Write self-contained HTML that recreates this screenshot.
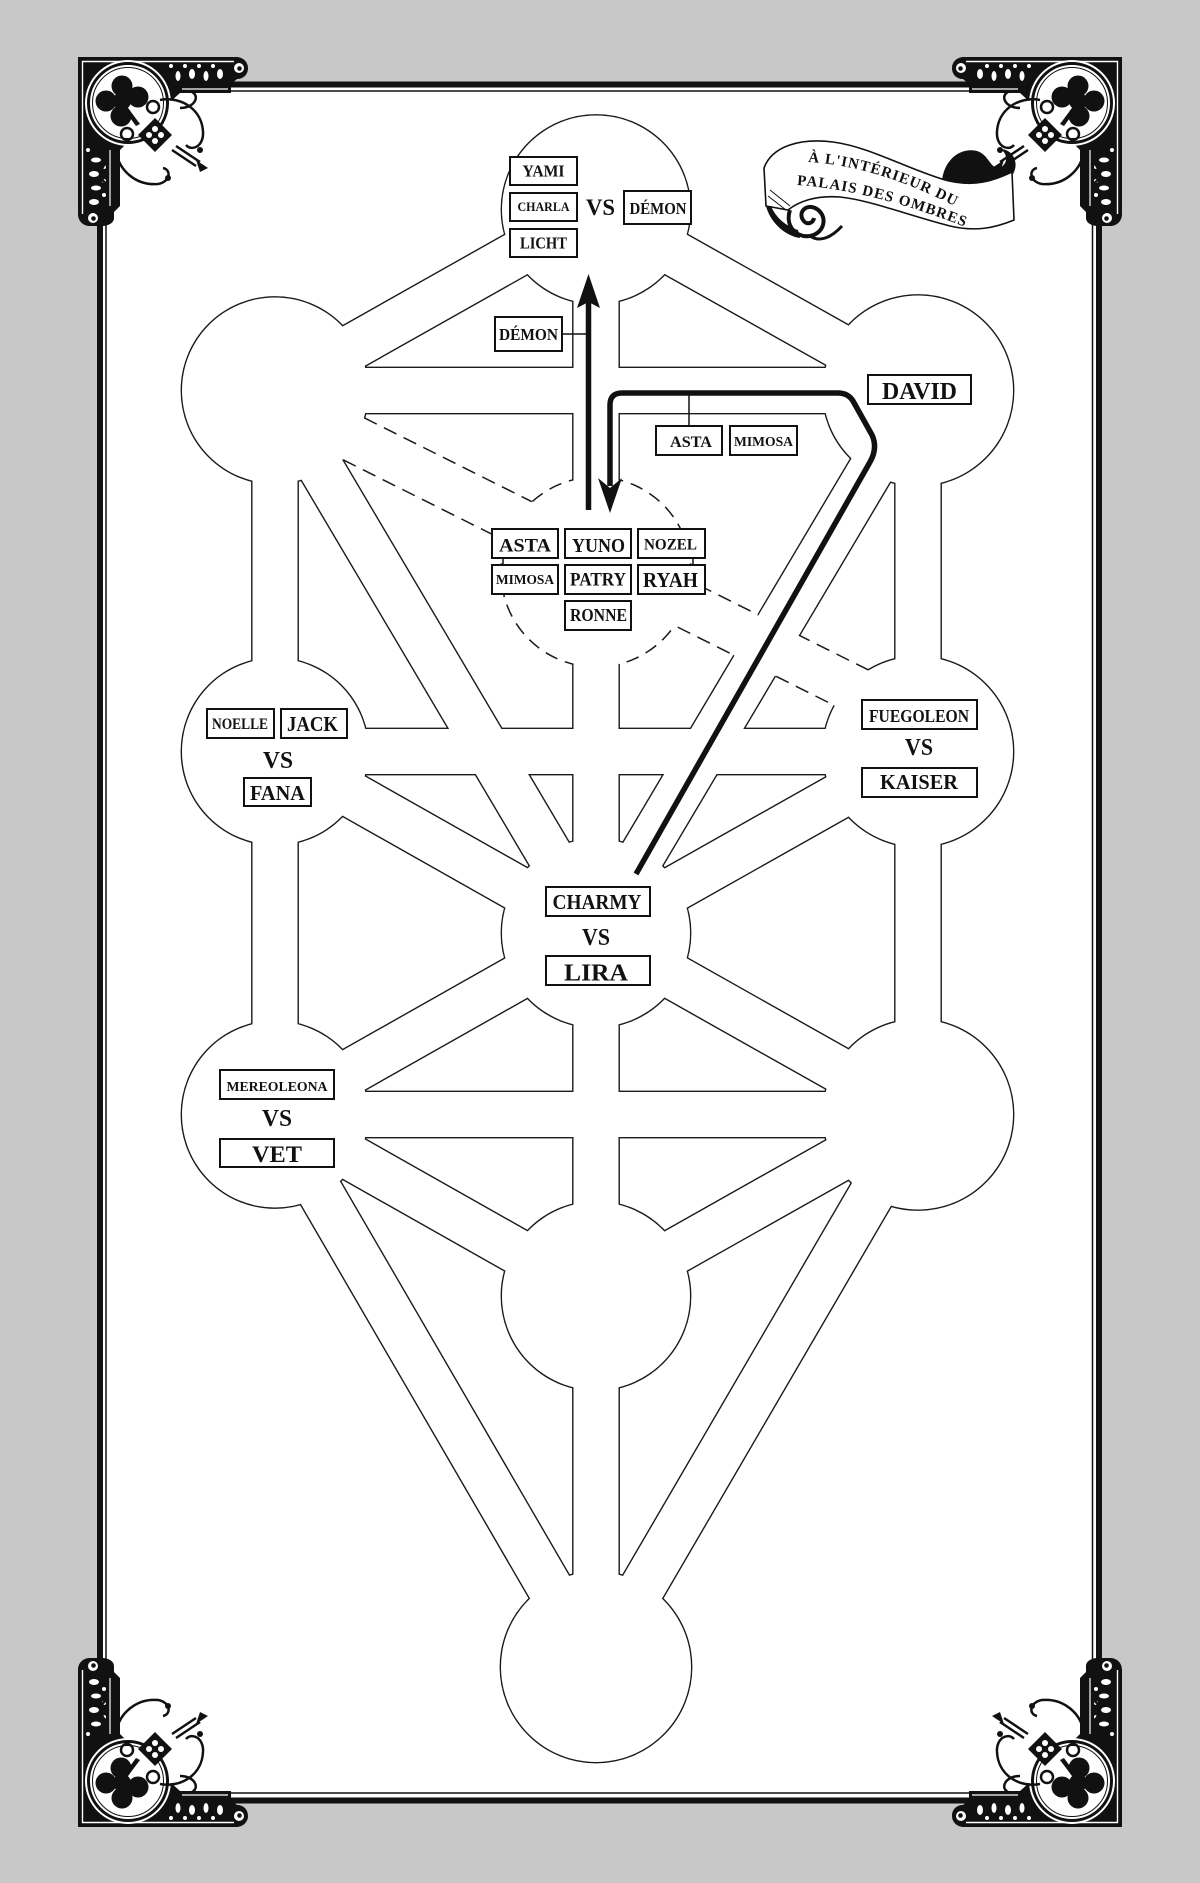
<!DOCTYPE html>
<html><head><meta charset="utf-8"><style>
html,body{margin:0;padding:0;background:#c8c8c8;}
svg{display:block;}
.t{font-family:"Liberation Serif","DejaVu Serif",serif;font-weight:bold;fill:#111;}
</style></head><body>
<svg xmlns="http://www.w3.org/2000/svg" xmlns:xlink="http://www.w3.org/1999/xlink" width="1200" height="1883" viewBox="0 0 1200 1883">
<defs>
<path id="chan" d="M596,209.5L275,390.5 M596,209.5L918,390.5 M596,209.5L596,933 M275,390.5L918,390.5 M275,390.5L275,751.5 M918,390.5L918,751.5 M275,390.5L596,933 M918,390.5L596,933 M275,751.5L918,751.5 M275,751.5L596,933 M918,751.5L596,933 M275,751.5L275,1114.5 M918,751.5L918,1114.5 M596,933L275,1114.5 M596,933L918,1114.5 M596,933L596,1296 M275,1114.5L918,1114.5 M275,1114.5L596,1296 M918,1114.5L596,1296 M275,1114.5L596,1667 M918,1114.5L596,1667 M596,1296L596,1667"/>
<g id="circ">
<circle cx="596" cy="209.5" r="94"/>
<circle cx="275" cy="390.5" r="93"/>
<circle cx="918" cy="390.5" r="95"/>
<circle cx="275" cy="751.5" r="93"/>
<circle cx="918" cy="751.5" r="95"/>
<circle cx="596" cy="933" r="94"/>
<circle cx="275" cy="1114.5" r="93"/>
<circle cx="918" cy="1114.5" r="95"/>
<circle cx="596" cy="1296" r="94"/>
<circle cx="596" cy="1667" r="95"/>
</g>
<mask id="mDaat" maskUnits="userSpaceOnUse" x="0" y="0" width="1200" height="1883">
<rect width="1200" height="1883" fill="#fff"/>
<line x1="596" y1="209.5" x2="596" y2="933" stroke="#000" stroke-width="45"/>
<line x1="275" y1="399.5" x2="918" y2="721" stroke="#000" stroke-width="47"/>
</mask>
<mask id="mDash" maskUnits="userSpaceOnUse" x="0" y="0" width="1200" height="1883">
<rect width="1200" height="1883" fill="#fff"/>
<use xlink:href="#chan" href="#chan" fill="none" stroke="#000" stroke-width="45"/>
<use xlink:href="#circ" href="#circ" fill="#000"/>
<circle cx="596" cy="572" r="95" fill="#000"/>
</mask>
<path id="rp1" d="M808,162 Q880,166 964,211" fill="none"/>
<path id="rp2" d="M797,185 Q872,190 968,228" fill="none"/>

<g id="orn">
<path fill="#111" d="M78,57 H236 C243,57 248,62 248,68 C248,75 243,79 237,79 L231,84 V93 H180 L150,120 L120,150 V206 L114,212 V218 C114,223 108,226 102,226 L90,226 C83,226 78,221 78,214 Z"/>
<path fill="none" stroke="#fff" stroke-width="1.4" d="M82.5,214 V61.5 H234"/>
<path fill="none" stroke="#fff" stroke-width="1.2" d="M110,206 V150 M182,89 H228"/>
<circle cx="239" cy="68" r="5" fill="#fff"/><circle cx="239.5" cy="68.5" r="2.3" fill="#111"/>
<circle cx="93" cy="218" r="5" fill="#fff"/><circle cx="93.5" cy="218.5" r="2.3" fill="#111"/>
<g fill="#fff">
<ellipse cx="178" cy="76" rx="2.5" ry="5"/><ellipse cx="192" cy="74" rx="3" ry="5"/><ellipse cx="206" cy="76" rx="2.5" ry="5"/><ellipse cx="220" cy="74" rx="3" ry="5"/>
<circle cx="185" cy="66" r="2"/><circle cx="199" cy="66" r="2"/><circle cx="213" cy="66" r="2"/><circle cx="171" cy="66" r="2"/>
<ellipse cx="96" cy="160" rx="5" ry="2.5"/><ellipse cx="94" cy="174" rx="5" ry="3"/><ellipse cx="96" cy="188" rx="5" ry="2.5"/><ellipse cx="94" cy="202" rx="5" ry="3"/>
<circle cx="104" cy="167" r="2"/><circle cx="104" cy="181" r="2"/><circle cx="104" cy="195" r="2"/><circle cx="88" cy="150" r="2"/>
</g>
<circle cx="128" cy="103" r="43" fill="#fff"/>
<circle cx="128" cy="103" r="39.5" fill="none" stroke="#111" stroke-width="3"/>
<circle cx="128" cy="103" r="35.5" fill="none" stroke="#111" stroke-width="1"/>
<g fill="#111">
<circle cx="122" cy="86" r="10.5"/><circle cx="106" cy="101" r="10.5"/><circle cx="138" cy="97" r="10.5"/><circle cx="121" cy="116" r="10.5"/><circle cx="122" cy="101" r="9"/>
<path d="M128,108 L140,124 L136,126 L125,111 Z"/>
<path d="M155,118 L172,135 L155,152 L138,135 Z"/>
</g>
<g fill="#fff"><circle cx="155" cy="129" r="3"/><circle cx="161" cy="135" r="3"/><circle cx="155" cy="141" r="3"/><circle cx="149" cy="135" r="3"/></g>
<g fill="none" stroke="#111" stroke-width="2.5">
<circle cx="153" cy="107" r="6"/><circle cx="127" cy="134" r="6"/>
<path d="M160,100 C182,96 202,110 203,132 C204,146 192,152 186,145"/>
<path d="M116,150 C118,170 136,186 158,184 C170,182 172,170 163,168"/>
<path d="M172,150 L196,166 M176,146 L200,162"/>
<path d="M180,108 C195,108 200,96 192,92"/>
<path d="M108,160 C98,170 100,182 108,184"/>
</g>
<g fill="#111"><circle cx="200" cy="150" r="3"/><circle cx="168" cy="178" r="3"/><path d="M196,160 L208,168 L200,172 Z"/></g>
</g>
</defs>

<!-- background -->
<rect width="1200" height="1883" fill="#c8c8c8"/>
<!-- page -->
<rect x="100" y="84.5" width="999" height="1716" fill="#fff" stroke="#111" stroke-width="6"/>
<rect x="106" y="91" width="986.5" height="1702" fill="none" stroke="#111" stroke-width="1.5"/>

<!-- tree black layer -->
<use xlink:href="#chan" href="#chan" fill="none" stroke="#1a1a1a" stroke-width="47.8"/>
<use xlink:href="#circ" href="#circ" fill="#1a1a1a" stroke="#1a1a1a" stroke-width="2.8"/>
<!-- tree white layer -->
<use xlink:href="#chan" href="#chan" fill="none" stroke="#fff" stroke-width="45"/>
<line x1="275" y1="399.5" x2="918" y2="721" stroke="#fff" stroke-width="47"/>
<use xlink:href="#circ" href="#circ" fill="#fff"/>
<circle cx="596" cy="572" r="95" fill="#fff"/>
<!-- dashed -->
<g mask="url(#mDaat)"><circle cx="596" cy="572" r="95" fill="none" stroke="#1a1a1a" stroke-width="1.5" stroke-dasharray="13 8"/></g>
<g mask="url(#mDash)" stroke="#1a1a1a" stroke-width="1.5" stroke-dasharray="14 8">
<line x1="285.5" y1="378.5" x2="928.5" y2="700"/>
<line x1="264.5" y1="420.5" x2="907.5" y2="742"/>
</g>

<!-- arrows and path -->
<line x1="588.5" y1="510" x2="588.5" y2="300" stroke="#111" stroke-width="5.5"/>
<path d="M588.5,274 L600,308 L588.5,302 L577,308 Z" fill="#111"/>
<line x1="563" y1="334" x2="588" y2="334" stroke="#111" stroke-width="1.5"/>
<path d="M636,874 L870,462 Q878,448 872,435 L853,401 Q848,393 838,393 L622,393 Q610,393 610,405 L610,486" fill="none" stroke="#111" stroke-width="5.5" stroke-linejoin="round"/>
<path d="M598,478 L610,513 L622,478 L610,488 Z" fill="#111"/>
<line x1="689" y1="393" x2="689" y2="425" stroke="#111" stroke-width="1.5"/>
<line x1="503" y1="558" x2="503" y2="565" stroke="#111" stroke-width="1.5"/>
<line x1="693" y1="558" x2="693" y2="565" stroke="#111" stroke-width="1.5"/>

<!-- boxes -->
<g fill="#fff" stroke="#111" stroke-width="2">
<rect x="510" y="157" width="67" height="28"/>
<rect x="510" y="193" width="67" height="28"/>
<rect x="510" y="229" width="67" height="28"/>
<rect x="624" y="191" width="67" height="33"/>
<rect x="495" y="317" width="67" height="34"/>
<rect x="868" y="375" width="103" height="29"/>
<rect x="656" y="426" width="66" height="29"/>
<rect x="730" y="426" width="67" height="29"/>
<rect x="492" y="529" width="66" height="29"/>
<rect x="565" y="529" width="66" height="29"/>
<rect x="638" y="529" width="67" height="29"/>
<rect x="492" y="565" width="66" height="29"/>
<rect x="565" y="565" width="66" height="29"/>
<rect x="638" y="565" width="67" height="29"/>
<rect x="565" y="601" width="66" height="29"/>
<rect x="207" y="709" width="67" height="29"/>
<rect x="281" y="709" width="66" height="29"/>
<rect x="244" y="778" width="67" height="28"/>
<rect x="862" y="700" width="115" height="29"/>
<rect x="862" y="768" width="115" height="29"/>
<rect x="546" y="887" width="104" height="29"/>
<rect x="546" y="956" width="104" height="29"/>
<rect x="220" y="1070" width="114" height="29"/>
<rect x="220" y="1139" width="114" height="28"/>
</g>

<!-- labels -->
<g class="t" text-anchor="middle">
<text x="543.5" y="176.5" font-size="16.5" textLength="42" lengthAdjust="spacingAndGlyphs">YAMI</text>
<text x="543.5" y="211" font-size="12.5" textLength="52" lengthAdjust="spacingAndGlyphs">CHARLA</text>
<text x="543.5" y="248.5" font-size="16.5" textLength="47" lengthAdjust="spacingAndGlyphs">LICHT</text>
<text x="600.5" y="215" font-size="23" textLength="29" lengthAdjust="spacingAndGlyphs">VS</text>
<text x="658" y="214" font-size="16.5" textLength="57" lengthAdjust="spacingAndGlyphs">DÉMON</text>
<text x="528.5" y="340" font-size="16.5" textLength="59" lengthAdjust="spacingAndGlyphs">DÉMON</text>
<text x="919.5" y="399" font-size="24" textLength="75" lengthAdjust="spacingAndGlyphs">DAVID</text>
<text x="691" y="447" font-size="16" textLength="42" lengthAdjust="spacingAndGlyphs">ASTA</text>
<text x="763.5" y="446" font-size="14" textLength="59" lengthAdjust="spacingAndGlyphs">MIMOSA</text>
<text x="525" y="551.5" font-size="19" textLength="52" lengthAdjust="spacingAndGlyphs">ASTA</text>
<text x="598.5" y="552" font-size="20" textLength="53" lengthAdjust="spacingAndGlyphs">YUNO</text>
<text x="670.5" y="549.5" font-size="16" textLength="53" lengthAdjust="spacingAndGlyphs">NOZEL</text>
<text x="525" y="584" font-size="13.5" textLength="58" lengthAdjust="spacingAndGlyphs">MIMOSA</text>
<text x="598" y="585.5" font-size="19" textLength="56" lengthAdjust="spacingAndGlyphs">PATRY</text>
<text x="670.5" y="587" font-size="21" textLength="55" lengthAdjust="spacingAndGlyphs">RYAH</text>
<text x="598.5" y="621" font-size="18" textLength="57" lengthAdjust="spacingAndGlyphs">RONNE</text>
<text x="240" y="729" font-size="15.5" textLength="56" lengthAdjust="spacingAndGlyphs">NOELLE</text>
<text x="312.5" y="731" font-size="21" textLength="51" lengthAdjust="spacingAndGlyphs">JACK</text>
<text x="278" y="768" font-size="24" textLength="30" lengthAdjust="spacingAndGlyphs">VS</text>
<text x="277.5" y="800" font-size="21" textLength="55" lengthAdjust="spacingAndGlyphs">FANA</text>
<text x="919" y="722" font-size="17.5" textLength="100" lengthAdjust="spacingAndGlyphs">FUEGOLEON</text>
<text x="919" y="755" font-size="24" textLength="28" lengthAdjust="spacingAndGlyphs">VS</text>
<text x="919" y="789" font-size="21" textLength="78" lengthAdjust="spacingAndGlyphs">KAISER</text>
<text x="597" y="909" font-size="21" textLength="89" lengthAdjust="spacingAndGlyphs">CHARMY</text>
<text x="596" y="945" font-size="24" textLength="28" lengthAdjust="spacingAndGlyphs">VS</text>
<text x="596" y="980.5" font-size="24" textLength="64" lengthAdjust="spacingAndGlyphs">LIRA</text>
<text x="277" y="1091" font-size="14" textLength="101" lengthAdjust="spacingAndGlyphs">MEREOLEONA</text>
<text x="277" y="1126" font-size="24" textLength="30" lengthAdjust="spacingAndGlyphs">VS</text>
<text x="277" y="1162" font-size="23" textLength="50" lengthAdjust="spacingAndGlyphs">VET</text>
</g>

<!-- ribbon -->
<path fill="#111" d="M942,181 C944,160 960,147 977,151 C990,155 990,171 1001,167 C1009,163 1007,151 999,149 C1012,148 1020,162 1013,174 C1005,180 990,184 975,186 Z"/>
<path fill="#fff" stroke="#111" stroke-width="1.6" d="M764,168 C772,146 800,138 833,142 C870,147 905,168 945,180 C975,188 995,180 1012,172 L1014,220 C995,228 975,232 950,226 C910,216 870,200 840,197 C815,195 798,202 788,210 L766,206 Z"/>
<path fill="#111" d="M766,206 C770,222 785,236 800,238 L798,230 C786,226 776,218 771,206 Z"/>
<path d="M770,190 L790,206 M768,196 L786,210" stroke="#111" stroke-width="1" fill="none"/>
<path d="M790,210 C785,225 795,238 810,236 C826,233 828,214 815,208 C806,204 798,212 803,220 C806,225 813,224 814,218" fill="none" stroke="#111" stroke-width="4"/>
<path d="M810,236 C820,243 832,237 842,226" fill="none" stroke="#111" stroke-width="3"/>
<text class="t" font-size="15" letter-spacing="1"><textPath xlink:href="#rp1" href="#rp1">À L'INTÉRIEUR DU</textPath></text>
<text class="t" font-size="15" letter-spacing="1.1"><textPath xlink:href="#rp2" href="#rp2">PALAIS DES OMBRES</textPath></text>

<!-- corner ornaments -->
<use xlink:href="#orn" href="#orn"/>
<use xlink:href="#orn" href="#orn" transform="translate(1200,0) scale(-1,1)"/>
<use xlink:href="#orn" href="#orn" transform="translate(0,1884) scale(1,-1)"/>
<use xlink:href="#orn" href="#orn" transform="translate(1200,1884) scale(-1,-1)"/>
</svg>
</body></html>
